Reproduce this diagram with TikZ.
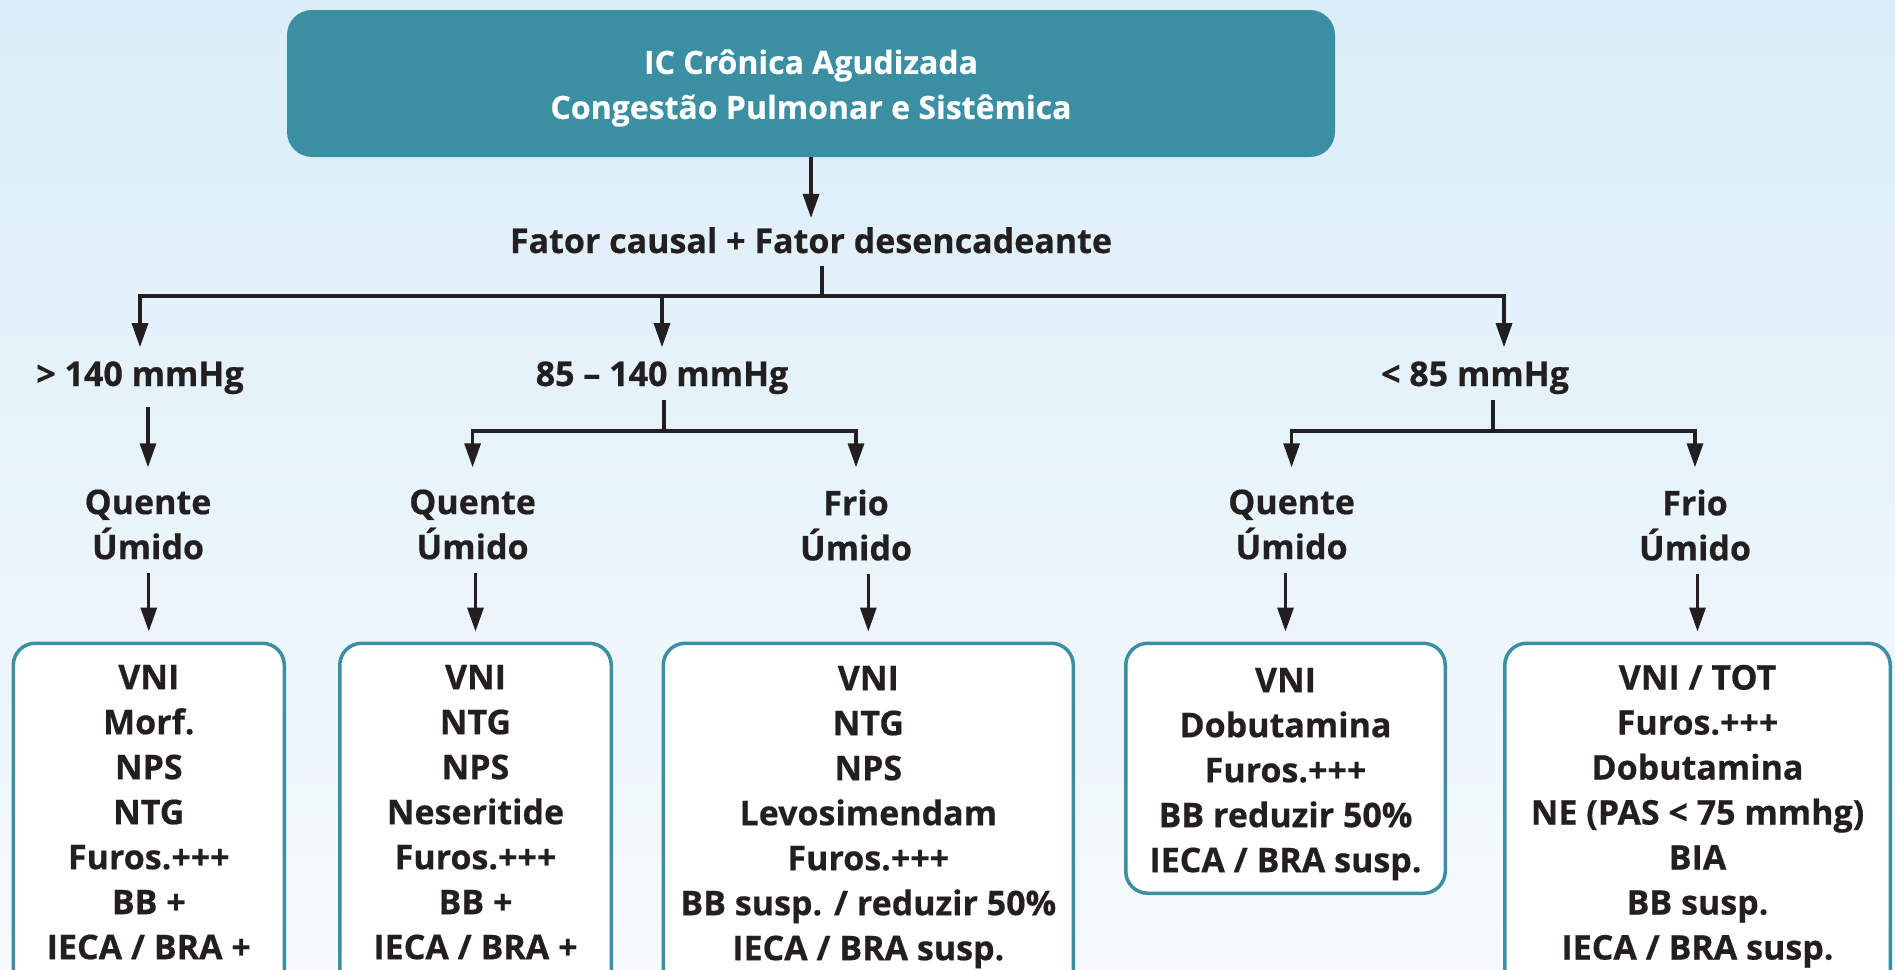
\documentclass[tikz,border=0pt]{standalone}
\usepackage{fontspec}
\setmainfont{Open Sans}[BoldFeatures={FakeBold=0.5}]
\usetikzlibrary{arrows.meta, positioning}
\definecolor{icteal}{HTML}{3A8FA3}
\definecolor{icink}{HTML}{231F20}
\definecolor{bgtop}{HTML}{DAEDF8}
\definecolor{bgbot}{HTML}{F6FAFD}

\begin{document}
\begin{tikzpicture}[x=1pt, y=-1pt,
    lbl/.style={inner sep=0pt, align=center, text=icink,
        font=\bfseries\fontsize{34}{45}\selectfont},
    conn/.style={draw=icink, line width=3.3pt},
    arr/.style={conn, -{Triangle[length=24pt, width=16pt]}},
    drugbox/.style={draw=icteal, line width=3.5pt, fill=white,
        rounded corners=22pt, anchor=north, minimum height=350pt},
    titlebox/.style={fill=icteal, rounded corners=25pt,
        minimum width=1048pt, minimum height=147pt}]
    \useasboundingbox (0,0) rectangle (1895,969);
    \clip (0,0) rectangle (1895,969);
    \fill[top color=bgtop, bottom color=bgbot] (0,0) rectangle (1895,969);

    \node [titlebox] (ic) at (811,83.5) {};
    \node [lbl, text=white, font=\bfseries\fontsize{32}{45}\selectfont,
        below=39.4pt of ic.north] (ictext)
        {IC Crônica Agudizada\\Congestão Pulmonar e Sistêmica};
    \node [lbl, anchor=base] (fator) at (811,253) {Fator causal + Fator desencadeante};

    \node [lbl, anchor=base] (p1) at (140,386) {> 140 mmHg};
    \node [lbl, anchor=base] (p2) at (662,386) {85 -- 140 mmHg};
    \node [lbl, anchor=base] (p3) at (1475,386) {< 85 mmHg};

    \node [lbl, anchor=north] (q1) at (148,489.3) {Quente\\Úmido};
    \node [lbl, anchor=north] (q2) at (472.6,489.3) {Quente\\Úmido};
    \node [lbl, anchor=north] (q3) at (856,489.3) {Frio\\Úmido};
    \node [lbl, anchor=north] (q4) at (1291.6,489.3) {Quente\\Úmido};
    \node [lbl, anchor=north] (q5) at (1695,489.3) {Frio\\Úmido};

    \node [drugbox, minimum width=271pt] (b1) at (148.8,641.5) {};
    \node [drugbox, minimum width=271.5pt] (b2) at (475.5,641.5) {};
    \node [drugbox, minimum width=410pt] (b3) at (868.3,641.5) {};
    \node [drugbox, minimum width=319.5pt, minimum height=250pt] (b4) at (1285.5,641.5) {};
    \node [drugbox, minimum width=385.5pt] (b5) at (1697.5,641.5) {};

    \node [lbl, below=23.2pt of b1.north] (t1)
        {VNI\\Morf.\\NPS\\NTG\\Furos.+++\\BB +\\IECA / BRA +};
    \node [lbl, below=23.2pt of b2.north] (t2)
        {VNI\\NTG\\NPS\\Neseritide\\Furos.+++\\BB +\\IECA / BRA +};
    \node [lbl, below=24.2pt of b3.north] (t3)
        {VNI\\NTG\\NPS\\Levosimendam\\Furos.+++\\BB susp. / reduzir 50\%\\IECA / BRA susp.};
    \node [lbl, below=26.2pt of b4.north] (t4)
        {VNI\\Dobutamina\\Furos.+++\\BB reduzir 50\%\\IECA / BRA susp.};
    \node [lbl, below=23.2pt of b5.north] (t5)
        {VNI / TOT\\Furos.+++\\Dobutamina\\NE (PAS < 75 mmhg)\\BIA\\BB susp.\\IECA / BRA susp.};

    \draw [arr, shorten >=9pt] (ic.south) -- (fator.north);
    \coordinate (j0) at (822,296);
    \draw [conn, shorten <=12pt] (fator.south -| j0) -- (j0);
    \draw [arr, shorten >=14pt] (j0) -| (p1.north);
    \draw [arr, shorten >=14pt] (j0) -| (p2.north);
    \draw [arr, shorten >=14pt] (j0) -| ([xshift=29pt]p3.north);

    \draw [arr, shorten <=13pt, shorten >=22pt] (p1.south -| q1.north) -- (q1.north);
    \coordinate (j2) at (664,431);
    \draw [conn, shorten <=6pt] (p2.south -| j2) -- (j2);
    \draw [arr, shorten >=22pt] (j2) -| (q2.north);
    \draw [arr, shorten >=22pt] (j2) -| (q3.north);
    \coordinate (j3) at (1493,431);
    \draw [conn, shorten <=6pt] (p3.south -| j3) -- (j3);
    \draw [arr, shorten >=22pt] (j3) -| (q4.north);
    \draw [arr, shorten >=22pt] (j3) -| (q5.north);

    \foreach \i in {1,...,5}
        \draw [arr, shorten <=13pt, shorten >=10pt] (q\i.south -| b\i.north) -- (b\i.north);
\end{tikzpicture}
\end{document}
